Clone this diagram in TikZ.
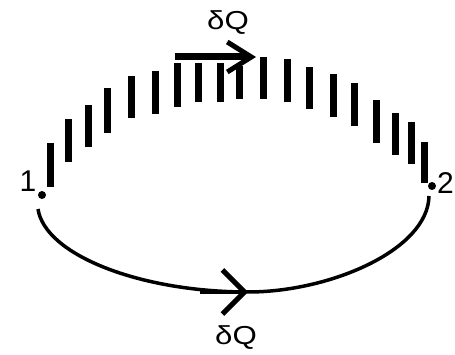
\documentclass[tikz,border=0pt]{standalone}
\usepackage{fontspec}
\setmainfont{Liberation Sans}
\usetikzlibrary{arrows.meta}
\begin{document}
\begin{tikzpicture}[x=1pt,y=-1pt,
  dotnode/.style={circle,fill=black,inner sep=0pt,minimum size=8pt},
  numlabel/.style={inner sep=0pt,font=\fontsize{30}{34}\selectfont},
  qlabel/.style={inner sep=0pt,font=\fontsize{26}{30}\selectfont,xscale=1.2},
  bar/.style={fill=black},
  heat/.style={line width=3.5pt},
  toparrow/.style={line width=7pt,-{Straight Barb[length=24pt,width=30pt,line width=5pt]}},
  lowarrow/.style={line width=3.5pt,-{Straight Barb[length=22pt,width=44pt,line width=5pt]}}]
\useasboundingbox (0,0) rectangle (455,355);
% state points
\node[dotnode] (p1) at (42,195) {};
\node[dotnode] (p2) at (432,186) {};
\node[numlabel] (l1) at (28,181) {1};
\node[numlabel,anchor=west] (l2) at (437,183) {2};
% irreversible path (hatched bars)
\foreach \x/\a/\b in {50/143/187,68/119/162,88/105/147,107/88/133,131/76/118,
  155/71/114,177/63/107,198/63/102,220/63/102,239/66/99,263/57/99,287/59/102,
  309/67/109,333/74/117,354/83/126,376/100/143,395/113/155,411/122/164,424/142/183}
  \fill[bar] (\x-3.5,\a) rectangle (\x+3.5,\b);
% top heat arrow
\coordinate (a1) at (175,57);
\coordinate (a2) at (256,57);
\draw[toparrow] (a1) -- (a2);
\node[qlabel] (q1) at (228,23) {δQ};
% lower reversible path
\coordinate (s1) at (38,209);
\coordinate (m) at (248,292);
\coordinate (s2) at (429,196);
\draw[heat] (s1) .. controls (45,255) and (140,292) .. (m);
\draw[lowarrow] (200,292) -- (m);
\draw[heat] (m) .. controls (330,292) and (428,250) .. (s2);
\node[qlabel] (q2) at (236,338) {δQ};
\end{tikzpicture}
\end{document}
